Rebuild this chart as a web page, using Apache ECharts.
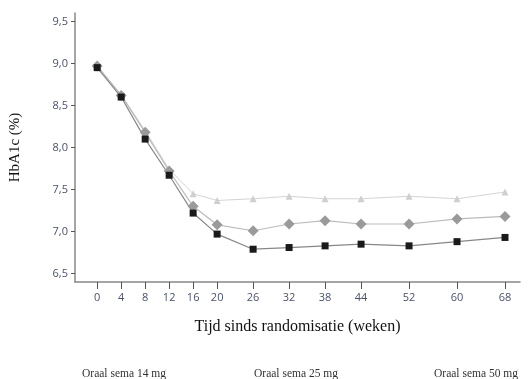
<!DOCTYPE html>
<html><head><meta charset="utf-8">
<script src="https://cdn.jsdelivr.net/npm/echarts@6/dist/echarts.min.js"></script>
<style>html,body{margin:0;padding:0;background:#fff}#c{width:528px;height:379px}</style>
</head><body><div id="c"></div>
<script>
const weeks = [0, 4, 8, 12, 16, 20, 26, 32, 38, 44, 52, 60, 68];
const yTicks = [6.5, 7.0, 7.5, 8.0, 8.5, 9.0, 9.5];
const seriesNames = ['Oraal sema 14 mg', 'Oraal sema 25 mg', 'Oraal sema 50 mg'];
const sema14 = [8.97, 8.63, 8.20, 7.74, 7.45, 7.37, 7.39, 7.42, 7.39, 7.39, 7.42, 7.39, 7.47];
const sema25 = [8.97, 8.62, 8.18, 7.72, 7.30, 7.08, 7.01, 7.09, 7.13, 7.09, 7.09, 7.15, 7.18];
const sema50 = [8.95, 8.60, 8.10, 7.67, 7.22, 6.97, 6.79, 6.81, 6.83, 6.85, 6.83, 6.88, 6.93];

const pair = arr => weeks.map((w, i) => [w, arr[i]]);
const serif = '"Liberation Serif", "DejaVu Serif", serif';
const chart = echarts.init(document.getElementById('c'));
chart.setOption({
  animation: false,
  backgroundColor: '#fff',
  grid: { left: 75, right: 8, top: 13, bottom: 97 },
  xAxis: {
    type: 'value', min: -3.7, max: 70.5,
    splitLine: { show: false },
    axisLine: { onZero: false, lineStyle: { color: '#888', width: 1.5 } },
    axisTick: { customValues: weeks, length: 7, lineStyle: { color: '#555' } },
    axisLabel: { customValues: weeks, color: '#4a5268', fontSize: 11, margin: 10,
      fontFamily: '"Open Sans", sans-serif' },
    name: 'Tijd sinds randomisatie (weken)', nameLocation: 'middle', nameGap: 37,
    nameTextStyle: { color: '#111', fontSize: 16, fontFamily: serif }
  },
  yAxis: {
    type: 'value', min: 6.4, max: 9.6,
    splitLine: { show: false },
    axisLine: { show: true, onZero: false, lineStyle: { color: '#888', width: 1.5 } },
    axisTick: { show: true, customValues: yTicks, length: 4, lineStyle: { color: '#555' } },
    axisLabel: { customValues: yTicks, color: '#4a5268', fontSize: 11, margin: 7,
      fontFamily: '"Open Sans", sans-serif',
      formatter: v => v.toFixed(1).replace('.', ',') },
    name: 'HbA1c (%)', nameLocation: 'middle', nameGap: 52,
    nameTextStyle: { color: '#111', fontSize: 15, fontFamily: serif }
  },
  legend: [0, 1, 2].map(i => ({
    data: [seriesNames[i]], icon: 'none', itemWidth: 0, itemGap: 0,
    left: [72, 244, 424][i], top: 362,
    textStyle: { color: '#333', fontSize: 11.5, fontFamily: serif }
  })),
  series: [
    { name: seriesNames[0], type: 'line', data: pair(sema14), symbol: 'triangle', symbolSize: 7,
      itemStyle: { color: '#cfcfcf' }, lineStyle: { color: '#d4d4d4', width: 1 } },
    { name: seriesNames[1], type: 'line', data: pair(sema25), symbol: 'diamond', symbolSize: 11,
      itemStyle: { color: '#9a9a9a' }, lineStyle: { color: '#bbbbbb', width: 1.2 } },
    { name: seriesNames[2], type: 'line', data: pair(sema50), symbol: 'rect', symbolSize: 7,
      itemStyle: { color: '#1a1a1a' }, lineStyle: { color: '#888888', width: 1.2 } }
  ]
});
</script></body></html>
